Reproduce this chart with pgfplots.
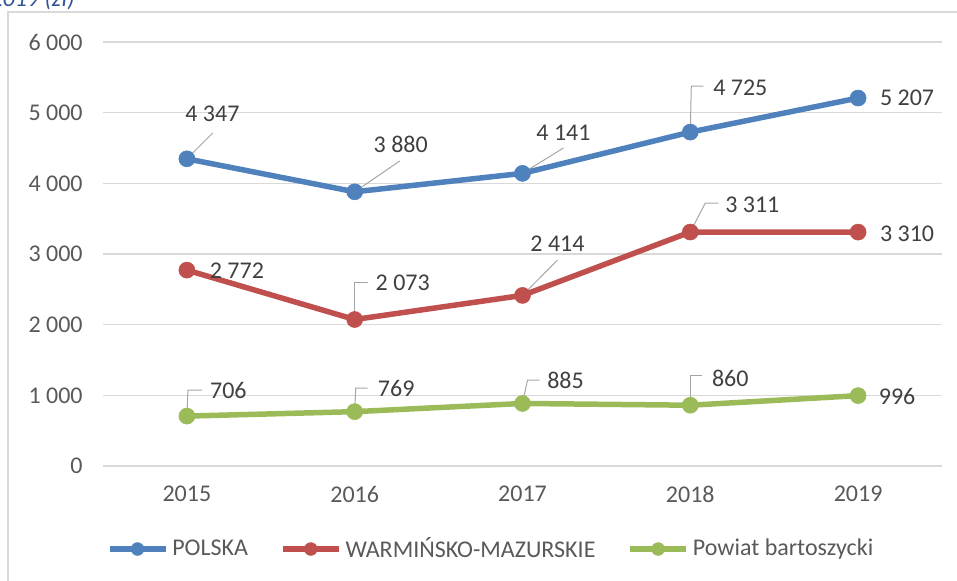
\documentclass[border=0pt]{standalone}
\usepackage{pgfplots}
\pgfplotsset{compat=1.18}
\usepackage{fontspec}
\setmainfont{Carlito}
\definecolor{cblue}{RGB}{79,129,189}
\definecolor{cred}{RGB}{192,80,77}
\definecolor{cgreen}{RGB}{155,187,89}
\definecolor{cgrid}{RGB}{217,217,217}
\definecolor{ctick}{RGB}{89,89,89}
\definecolor{clabel}{RGB}{64,64,64}
\definecolor{clead}{RGB}{166,166,166}
\definecolor{ctitle}{RGB}{47,85,151}
\newcommand{\lab}[5]{\node[inner sep=0pt, anchor=center, text=clabel] at ([xshift=#3pt,yshift=#4pt]axis cs:#1,#2) {#5};}
\newcommand{\leadd}[4]{\draw[clead, line width=0.5pt] (axis cs:#1,#2) -- ([xshift=#3pt,yshift=#4pt]axis cs:#1,#2);}
\newcommand{\leadl}[6]{\draw[clead, line width=0.5pt] (axis cs:#1,#2) -- ([xshift=#3pt,yshift=#4pt]axis cs:#1,#2) -- ([xshift=#5pt,yshift=#6pt]axis cs:#1,#2);}
\begin{document}
\fontsize{12}{14}\selectfont
\begin{tikzpicture}
\useasboundingbox (0,0) rectangle (478.5pt,-290.5pt);
\begin{scope}
\clip (0,0) rectangle (478.5pt,-290.5pt);
\node[anchor=base east, inner sep=0pt, font=\itshape, text=ctitle] at (37.5pt,-3.5pt) {2015–2019 (zł)};
\end{scope}
\draw[cgrid, line width=0.75pt] (4pt,-291pt) -- (4pt,-6pt) -- (479pt,-6pt);
\begin{axis}[
  at={(51.5pt,-233pt)}, anchor=south west,
  scale only axis, width=419.5pt, height=212pt,
  xmin=2014.5, xmax=2019.5, ymin=0, ymax=6000,
  xtick={2015,2016,2017,2018,2019}, xticklabels={2015,2016,2017,2018,2019},
  ytick={0,1000,2000,3000,4000,5000,6000},
  yticklabels={0,1 000,2 000,3 000,4 000,5 000,6 000},
  axis line style={draw=none},
  ymajorgrids, grid style={cgrid, line width=0.75pt},
  major tick length=0pt,
  tick label style={text=ctick, font=\fontsize{12}{14}\selectfont},
  xticklabel style={inner sep=0pt, yshift=-10pt},
  yticklabel style={inner sep=0pt, xshift=-10pt},
  clip=false,
  legend columns=3,
  legend style={at={(0.4637,-0.1958)}, anchor=center, draw=none, fill=none,
    text=ctick, font=\fontsize{12}{14}\selectfont,
    /tikz/every even column/.append style={column sep=14pt}},
  legend image code/.code={\draw[#1, mark size=3.2pt, mark repeat=2, mark phase=2] plot coordinates {(0pt,0pt) (14pt,0pt) (28pt,0pt)};},
  every axis plot/.append style={line width=2.75pt, mark=*, mark size=4pt, mark options={line width=0.3pt}},
]
% leader lines
\leadd{2015}{4347}{13}{13}
\leadd{2016}{3880}{22.5}{15.4}
\leadd{2017}{4141}{20.5}{12.7}
\leadl{2018}{4725}{0.5}{23}{6.5}{23}
\leadl{2016}{2073}{0}{18.3}{6.5}{18.3}
\leadd{2017}{2414}{17.5}{17.7}
\leadl{2018}{3311}{7.5}{14.5}{14}{14.5}
\leadl{2015}{706}{0.5}{13}{7.5}{13}
\leadl{2016}{769}{0.5}{11.8}{6.5}{11.8}
\leadl{2017}{885}{2.5}{11.7}{8.5}{11.7}
\leadl{2018}{860}{0}{15.1}{6}{15.1}

\addplot[cblue] coordinates {(2015,4347)(2016,3880)(2017,4141)(2018,4725)(2019,5207)};
\addlegendentry{POLSKA}
\addplot[cred] coordinates {(2015,2772)(2016,2073)(2017,2414)(2018,3311)(2019,3310)};
\addlegendentry{WARMIŃSKO-MAZURSKIE}
\addplot[cgreen] coordinates {(2015,706)(2016,769)(2017,885)(2018,860)(2019,996)};
\addlegendentry{Powiat bartoszycki}

% data labels
\lab{2015}{4347}{12.75}{22.5}{4 347}
\lab{2016}{3880}{23}{23.6}{3 880}
\lab{2017}{4141}{20.5}{20.2}{4 141}
\lab{2018}{4725}{25}{22.3}{4 725}
\lab{2019}{5207}{24.5}{0}{5 207}
\lab{2015}{2772}{25}{-0.5}{2 772}
\lab{2016}{2073}{24}{18.3}{2 073}
\lab{2017}{2414}{17.5}{25.7}{2 414}
\lab{2018}{3311}{31}{13.75}{3 311}
\lab{2019}{3310}{24.5}{-1}{3 310}
\lab{2015}{706}{20.75}{13}{706}
\lab{2016}{769}{20.75}{11.8}{769}
\lab{2017}{885}{21.5}{11.7}{885}
\lab{2018}{860}{20}{13.6}{860}
\lab{2019}{996}{19.5}{-0.2}{996}
\end{axis}
\end{tikzpicture}
\end{document}
